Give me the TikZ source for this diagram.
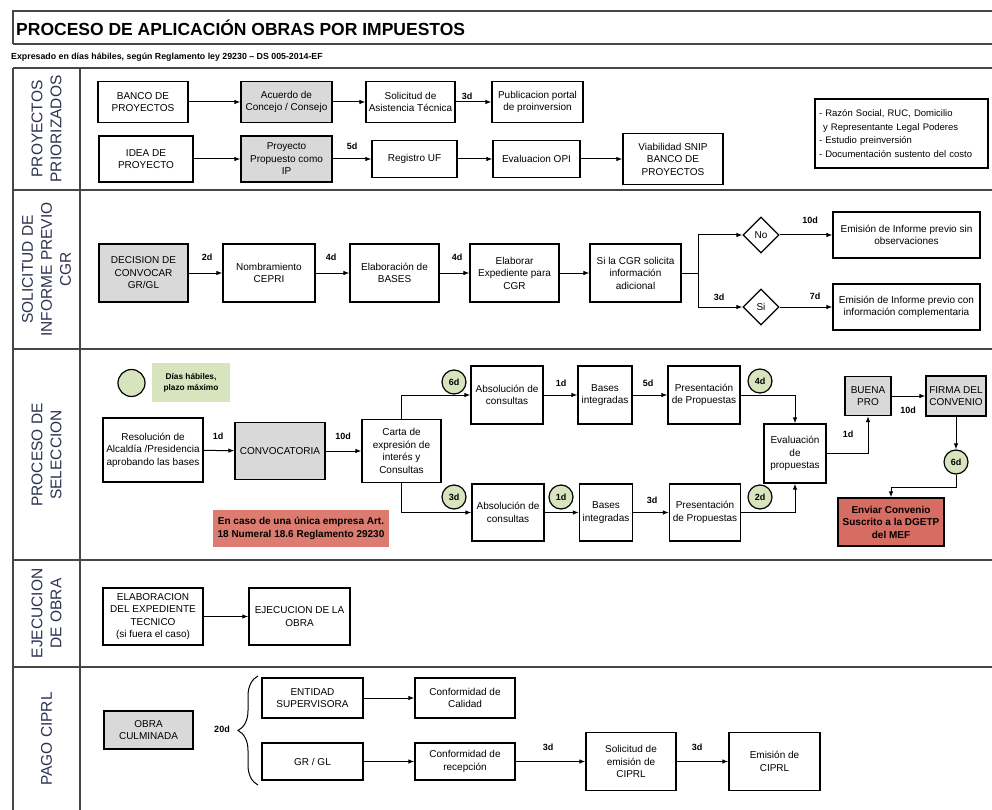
\documentclass[tikz,border=0pt]{standalone}
\usepackage{fontspec}
\setmainfont{Liberation Sans}
\usetikzlibrary{arrows.meta,shapes.geometric,decorations.pathreplacing}
\definecolor{grisbox}{RGB}{217,217,217}
\definecolor{verde}{RGB}{215,228,189}
\definecolor{rojo}{RGB}{214,108,98}
\definecolor{rojonota}{RGB}{220,124,112}
\definecolor{gmarco}{RGB}{70,70,70}
\definecolor{tinta}{RGB}{45,50,80}
\begin{document}
\begin{tikzpicture}[x=1pt,y=-1pt,>={Latex[length=6pt,width=4.5pt]},
caja/.style={draw,line width=1.2pt,align=center,inner sep=1pt,font=\fontsize{10}{12.5}\selectfont},
gris/.style={caja,fill=grisbox},
dias/.style={font=\bfseries\fontsize{9}{10}\selectfont,inner sep=1pt},
bola/.style={circle,draw,line width=1.2pt,fill=verde,minimum size=24pt,inner sep=0pt,font=\bfseries\fontsize{9}{10}\selectfont},
rombo/.style={diamond,draw,line width=1.2pt,minimum width=36,minimum height=36,inner sep=0pt,font=\fontsize{10}{12}\selectfont},
flecha/.style={->,line width=1pt},
carril/.style={rotate=90,align=center,text=tinta,font=\fontsize{15.5}{19}\selectfont},
marco/.style={draw=gmarco,line width=1.6pt}]
\useasboundingbox (0,0) rectangle (992,810);
\draw[marco] (13,44) -- (13,11) -- (992,11);
\foreach \y in {44,68,190,349,560,667}{\draw[marco] (13,\y) -- (992,\y);}
\draw[marco] (13,68) -- (13,810);
\draw[marco] (80,68) -- (80,810);
\node[anchor=west,inner sep=0pt,font=\bfseries\fontsize{17.5}{20}\selectfont] (titulo) at (16,28) {PROCESO DE APLICACIÓN OBRAS POR IMPUESTOS};
\node[anchor=west,inner sep=0pt,font=\bfseries\fontsize{8.8}{10}\selectfont] (subtitulo) at (11,57) {Expresado en días hábiles, según Reglamento ley 29230 -- DS 005-2014-EF};
\foreach \yc/\txt [count=\i] in {129/{PROYECTOS\\PRIORIZADOS},269.5/{SOLICITUD DE\\INFORME PREVIO\\CGR},455/{PROCESO DE\\SELECCION},613.5/{EJECUCION\\DE OBRA},739/{PAGO CIPRL}}{
\node[carril] (carril\i) at (46.5,\yc) {\txt};
}
\node[caja,minimum width=90,minimum height=41] (banco) at (143,102) {BANCO DE\\PROYECTOS};
\node[gris,minimum width=91,minimum height=41] (acuerdo) at (286.5,102) {Acuerdo de\\Concejo / Consejo};
\node[caja,minimum width=89,minimum height=41] (solasist) at (410.5,102) {Solicitud de\\Asistencia Técnica};
\node[caja,minimum width=91,minimum height=41] (publica) at (537.5,102) {Publicacion portal\\de proinversion};
\node[caja,minimum width=94,minimum height=46] (idea) at (146,159) {IDEA DE\\PROYECTO};
\node[gris,minimum width=91,minimum height=46] (propuesto) at (286.5,159) {Proyecto\\Propuesto como\\IP};
\node[caja,minimum width=85,minimum height=37] (registro) at (414.5,159) {Registro UF};
\node[caja,minimum width=87,minimum height=37] (evalopi) at (536.5,159) {Evaluacion OPI};
\node[caja,minimum width=100,minimum height=51] (viabilidad) at (673,159) {Viabilidad SNIP\\BANCO DE\\PROYECTOS};
\node[caja,align=left,text width=165,minimum width=173,minimum height=69,font=\fontsize{9.5}{13.5}\selectfont] (requisitos) at (901.5,133.5) {- Razón Social, RUC, Domicilio\\\hspace*{4pt}y Representante Legal Poderes\\- Estudio preinversión\\- Documentación sustento del costo};
\draw[flecha] (banco) -- (acuerdo);
\draw[flecha] (acuerdo) -- (solasist);
\draw[flecha] (solasist) -- (publica);
\draw[flecha] (idea) -- (propuesto);
\draw[flecha] (propuesto) -- (registro);
\draw[flecha] (registro) -- (evalopi);
\draw[flecha] (evalopi) -- (viabilidad);
\node[dias] (d3a) at (467,96) {3d};
\node[dias] (d5a) at (352,146) {5d};
\node[gris,minimum width=89,minimum height=58] (decision) at (143.5,273) {DECISION DE\\CONVOCAR\\GR/GL};
\node[caja,minimum width=92,minimum height=58] (nombra) at (269,273) {Nombramiento\\CEPRI};
\node[caja,minimum width=89,minimum height=58] (elabases) at (394.5,273) {Elaboración de\\BASES};
\node[caja,minimum width=89,minimum height=58] (elabexp) at (514.5,273) {Elaborar\\Expediente para\\CGR};
\node[caja,minimum width=91,minimum height=58] (sicgr) at (635.5,273) {Si la CGR solicita\\información\\adicional};
\node[rombo] (dno) at (761,235) {No};
\node[rombo] (dsi) at (761,307) {Si};
\node[caja,minimum width=147,minimum height=46] (emsin) at (906.5,235) {Emisión de Informe previo sin\\observaciones};
\node[caja,minimum width=147,minimum height=46] (emcon) at (906.5,307) {Emisión de Informe previo con\\información complementaria};
\draw[flecha] (decision) -- (nombra);
\draw[flecha] (nombra) -- (elabases);
\draw[flecha] (elabases) -- (elabexp);
\draw[flecha] (elabexp) -- (sicgr);
\draw[line width=1pt] (sicgr) -- ++(62.5,0) coordinate (rama);
\draw[flecha] (rama) |- (dno);
\draw[flecha] (rama) |- (dsi);
\draw[flecha] (dno) -- (emsin);
\draw[flecha] (dsi) -- (emcon);
\node[dias] (d2b) at (207,257) {2d};
\node[dias] (d4b) at (331,257) {4d};
\node[dias] (d4c) at (457,257) {4d};
\node[dias] (d10b) at (810,220) {10d};
\node[dias] (d3b) at (719,297) {3d};
\node[dias] (d7b) at (815,296) {7d};
\node[bola,minimum size=27pt] (leyc) at (131.5,383) {};
\node[fill=verde,minimum width=78,minimum height=39,align=center,inner sep=1pt,font=\bfseries\fontsize{8.3}{11}\selectfont] (leyenda) at (191,382.5) {Días hábiles,\\plazo máximo};
\node[caja,minimum width=100,minimum height=64] (resol) at (153,450) {Resolución de\\Alcaldía /Presidencia\\aprobando las bases};
\node[gris,minimum width=90,minimum height=57] (convoc) at (280,451) {CONVOCATORIA};
\node[caja,minimum width=79,minimum height=63] (carta) at (401.5,451) {Carta de\\expresión de\\interés y\\Consultas};
\node[caja,minimum width=72,minimum height=58] (absol1) at (507,395) {Absolución de\\consultas};
\node[caja,minimum width=54,minimum height=58] (bases1) at (605,395) {Bases\\integradas};
\node[caja,minimum width=72,minimum height=58] (pres1) at (704,395) {Presentación\\de Propuestas};
\node[caja,minimum width=72,minimum height=57] (absol2) at (508,512.5) {Absolución de\\consultas};
\node[caja,minimum width=53,minimum height=57] (bases2) at (606,512.5) {Bases\\integradas};
\node[caja,minimum width=71,minimum height=57] (pres2) at (705,512.5) {Presentación\\de Propuestas};
\node[caja,minimum width=62,minimum height=59] (eval) at (795,453.5) {Evaluación\\de\\propuestas};
\node[gris,minimum width=46,minimum height=39] (buena) at (868,396) {BUENA\\PRO};
\node[gris,minimum width=60,minimum height=40] (firma) at (956,396) {FIRMA DEL\\CONVENIO};
\node[caja,fill=rojo,minimum width=106,minimum height=48,font=\bfseries\fontsize{10}{12.5}\selectfont] (enviar) at (891,522) {Enviar Convenio\\Suscrito a la DGETP\\del MEF};
\node[fill=rojonota,minimum width=176,minimum height=37,align=center,inner sep=1pt,font=\bfseries\fontsize{10}{13}\selectfont] (unica) at (301,528.5) {En caso de una única empresa Art.\\18 Numeral 18.6 Reglamento 29230};
\draw[flecha] (resol) -- (convoc);
\draw[flecha] (convoc) -- (carta);
\draw[flecha] (carta.north) |- (absol1);
\draw[flecha] (carta.south) |- (absol2);
\draw[flecha] (absol1) -- (bases1);
\draw[flecha] (bases1) -- (pres1);
\draw[flecha] (absol2) -- (bases2);
\draw[flecha] (bases2) -- (pres2);
\draw[flecha] (pres1) -| (eval);
\draw[flecha] (pres2) -| (eval);
\draw[flecha] (eval) -| (buena);
\draw[flecha] (buena) -- (firma);
\node[bola] (c6a) at (454,382) {6d};
\node[bola] (c3a) at (454,497) {3d};
\node[bola] (c1a) at (561,497) {1d};
\node[bola] (c4a) at (760,381) {4d};
\node[bola] (c2a) at (760,497) {2d};
\node[bola] (c6b) at (956,462) {6d};
\draw[flecha] (firma) -- (c6b);
\draw[flecha] (c6b.south) -- ++(0,13) -| (enviar);
\node[dias] (d1c) at (218,436) {1d};
\node[dias] (d10c) at (343,436) {10d};
\node[dias] (d1d) at (561,383) {1d};
\node[dias] (d5d) at (648,383) {5d};
\node[dias] (d3d) at (652,500) {3d};
\node[dias] (d1e) at (848,434) {1d};
\node[dias] (d10e) at (908,410) {10d};
\node[caja,minimum width=100,minimum height=57] (elabtec) at (153,616.5) {ELABORACION\\DEL EXPEDIENTE\\TECNICO\\(si fuera el caso)};
\node[caja,minimum width=101,minimum height=57] (ejecuta) at (299.5,616.5) {EJECUCION DE LA\\OBRA};
\draw[flecha] (elabtec) -- (ejecuta);
\node[gris,minimum width=89,minimum height=38] (culmina) at (148.5,730) {OBRA\\CULMINADA};
\node[dias] (d20) at (222,729) {20d};
\draw[line width=1pt,decorate,decoration={brace,amplitude=20pt}] (258,785) -- (258,676);
\node[caja,minimum width=101,minimum height=40] (entidad) at (312.5,698) {ENTIDAD\\SUPERVISORA};
\node[caja,minimum width=100,minimum height=40] (confcal) at (465,698) {Conformidad de\\Calidad};
\node[caja,minimum width=101,minimum height=37] (grgl) at (312.5,761.5) {GR / GL};
\node[caja,minimum width=100,minimum height=37] (confrec) at (465,761.5) {Conformidad de\\recepción};
\node[caja,minimum width=90,minimum height=58] (solcip) at (631,761.5) {Solicitud de\\emisión de\\CIPRL};
\node[caja,minimum width=91,minimum height=58] (emicip) at (774.5,761.5) {Emisión de\\CIPRL};
\draw[flecha] (entidad) -- (confcal);
\draw[flecha] (grgl) -- (confrec);
\draw[flecha] (confrec) -- (solcip);
\draw[flecha] (solcip) -- (emicip);
\node[dias] (d3f) at (548,747) {3d};
\node[dias] (d3g) at (697,747) {3d};
\end{tikzpicture}
\end{document}
